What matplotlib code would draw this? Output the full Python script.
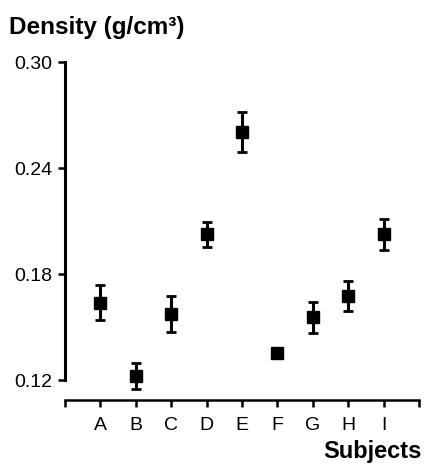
import matplotlib
matplotlib.use('agg')
import matplotlib.pyplot as plt
import numpy as np

plt.rcParams['font.family'] = ['Liberation Sans', 'DejaVu Sans']

# subjects and measured density (mean, error)
subjects = ['A', 'B', 'C', 'D', 'E', 'F', 'G', 'H', 'I']
density = [0.1638, 0.1222, 0.1572, 0.2025, 0.2606, 0.1351, 0.1555, 0.1675, 0.2025]
err = [0.0099, 0.0073, 0.0102, 0.0070, 0.0113, 0.0025, 0.0087, 0.0085, 0.0087]
yticks = [0.12, 0.18, 0.24, 0.30]

fig = plt.figure(figsize=(4.28, 4.66), dpi=100)
ax = fig.add_axes([0.1519, 0.1416, 0.827, 0.7253])

x = np.arange(1, len(subjects) + 1)
ax.errorbar(x, density, yerr=err, fmt='s', color='black', ms=9.2,
            elinewidth=2.2, capsize=3.6, capthick=2.0)

ax.set_xlim(0, 10)
ax.set_ylim(0.1087, 0.30)
ax.set_xticks(range(0, 11))
ax.set_xticklabels([''] + subjects + [''])
ax.set_yticks(yticks)
ax.set_yticklabels(['%.2f' % v for v in yticks])

for s in ['top', 'right']:
    ax.spines[s].set_visible(False)
ax.spines['left'].set_bounds(0.12, 0.30)
ax.spines['left'].set_linewidth(2.2)
ax.spines['bottom'].set_linewidth(1.8)
ax.tick_params(axis='y', length=5, width=1.8, labelsize=14, pad=4)
ax.tick_params(axis='x', length=5, width=1.8, labelsize=14, pad=7)

fig.text(9 / 428, 1 - 34 / 466, 'Density (g/cm\u00b3)', fontsize=17.5,
         fontweight='bold', ha='left', va='baseline')
fig.text(422 / 428, 1 - 458 / 466, 'Subjects', fontsize=17,
         fontweight='bold', ha='right', va='baseline')

fig.savefig('out.png', dpi=100)
